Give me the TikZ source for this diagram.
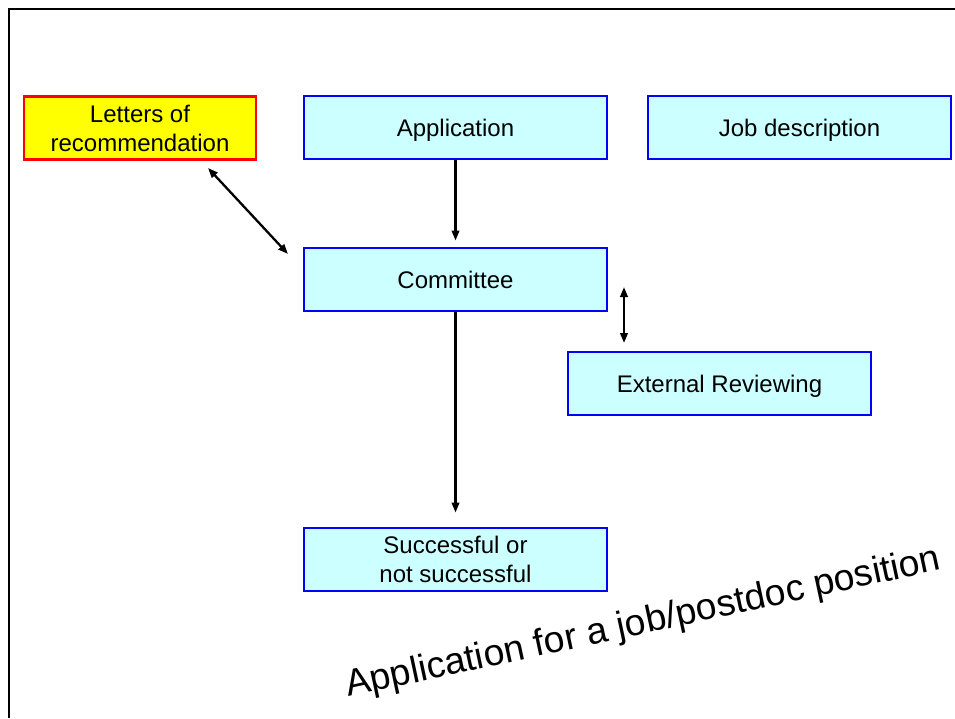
\documentclass[tikz,border=0pt]{standalone}
\usepackage{fontspec}
\setmainfont{Liberation Sans}
\usetikzlibrary{arrows.meta,calc}
\definecolor{boxfill}{HTML}{CCFFFF}
\definecolor{boxline}{HTML}{0000FF}
\definecolor{letfill}{HTML}{FFFF00}
\definecolor{letline}{HTML}{FF0000}
\begin{document}
\begin{tikzpicture}[x=1pt,y=-1pt,
  box/.style={draw=boxline,fill=boxfill,line width=2.8pt,minimum width=303pt,minimum height=63pt,inner sep=0pt,align=center,font=\fontsize{24}{29}\selectfont},
  onebox/.style={box,text height=17pt,text depth=0pt},
  letbox/.style={box,draw=letline,fill=letfill,minimum width=232pt},
  conn/.style={line width=2.3pt,-{Triangle[length=10pt,width=7.5pt]}},
  bconn/.style={line width=2.3pt,{Triangle[length=10pt,width=7.5pt]}-{Triangle[length=10pt,width=7.5pt]}}
  ]
\useasboundingbox (0,0) rectangle (955,718);
\fill[white] (0,0) rectangle (955,718);
\draw[line width=2.5pt] (955,9) -- (9,9) -- (9,718);
\node[letbox] (let) at (140,128) {Letters of\\recommendation};
\node[onebox] (app) at (455.5,127.5) {Application};
\node[onebox] (job) at (799.5,127.5) {Job description};
\node[onebox] (com) at (455.5,279.5) {Committee};
\node[onebox] (ext) at (719.5,383.5) {External Reviewing};
\node[box] (suc) at (455.5,559.5) {Successful or\\not successful};
\coordinate (l1) at (208,168);
\coordinate (l2) at (288,254);
\coordinate (e1) at (624,287);
\coordinate (e2) at (624,343);
\draw[conn,shorten >=6pt] (app.south) -- (com.north);
\draw[conn,shorten >=14pt] (com.south) -- (suc.north);
\draw[bconn] (l1) -- (l2);
\draw[bconn] (e1) -- (e2);
\node[anchor=base west,rotate=12.1,inner sep=0pt,font=\fontsize{37.3}{40}\selectfont] (title) at (348,697) {Application for a job/postdoc position};
\end{tikzpicture}
\end{document}
